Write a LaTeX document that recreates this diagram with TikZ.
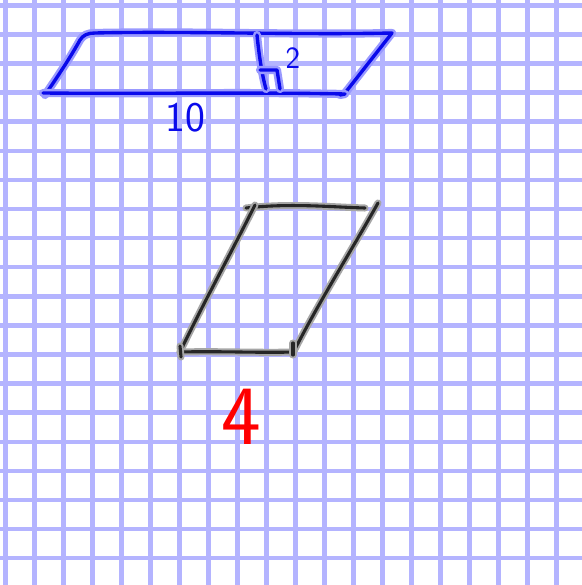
\documentclass[tikz,border=0pt]{standalone}
\definecolor{grillebleu}{RGB}{180,180,255}
\definecolor{encrebleu}{RGB}{10,10,235}
\begin{document}
\begin{tikzpicture}[x=0.025cm,y=-0.025cm,
    grille/.style={fill=grillebleu},
    bleu/.style={draw=encrebleu, line width=2.4pt, line cap=round, line join=round,
      preaction={draw=blue!40, line width=5.8pt, line cap=round, line join=round}},
    noir/.style={draw=black!85, line width=2.2pt, line cap=round, line join=round,
      preaction={draw=black!35, line width=5pt, line cap=round, line join=round}}]

    % Fond et cadre
    \fill[white] (0,0) rectangle (582,585);
    \useasboundingbox (0,0) rectangle (582,585);

    % Dessiner le quadrillage
    \foreach \i in {0,...,19} {
        \path[grille] ({3+29*\i},0) rectangle ++(4.5,585);
    }
    \foreach \j in {0,...,19} {
        \path[grille] (0,{3+29.1*\j}) rectangle ++(582,4.5);
    }

    % Dessiner le parallelogramme bleu
    \draw[bleu] (45,95) .. controls (58,76) and (70,58) .. (80,40)
                .. controls (83,35) and (88,33) .. (95,33)
                .. controls (180,31) and (300,35) .. (392,33)
                -- (345,93);
    \draw[bleu] (43,93) .. controls (150,94) and (250,92) .. (345,94) -- (340,95);

    % Dessiner la hauteur et l'angle droit
    \draw[bleu] (257,35) .. controls (259,55) and (262,75) .. (266,89);
    \draw[bleu] (260,70) -- (277,70) -- (280,89);

    % Les cotes
    \node[text=encrebleu, font=\sffamily\fontsize{30}{30}\selectfont] (base) at (185,118) {10};
    \node[text=encrebleu, font=\sffamily\fontsize{22}{22}\selectfont] (haut) at (293,58) {2};

    % Dessiner le parallelogramme noir
    \draw[noir] (246,208) .. controls (290,203) and (330,207) .. (365,208);
    \draw[noir] (255,205) .. controls (230,255) and (205,300) .. (180,352);
    \draw[noir] (180,352) .. controls (220,351) and (260,353) .. (293,352);
    \draw[noir] (378,203) .. controls (350,253) and (320,300) .. (293,353);
    \draw[noir] (180,346) -- (181,357);
    \draw[noir] (293,343) -- (293,355);

    % Le nombre rouge
    \node[text=red, font=\sffamily\fontsize{60}{60}\selectfont] (cote) at (241,417) {4};
\end{tikzpicture}
\end{document}
